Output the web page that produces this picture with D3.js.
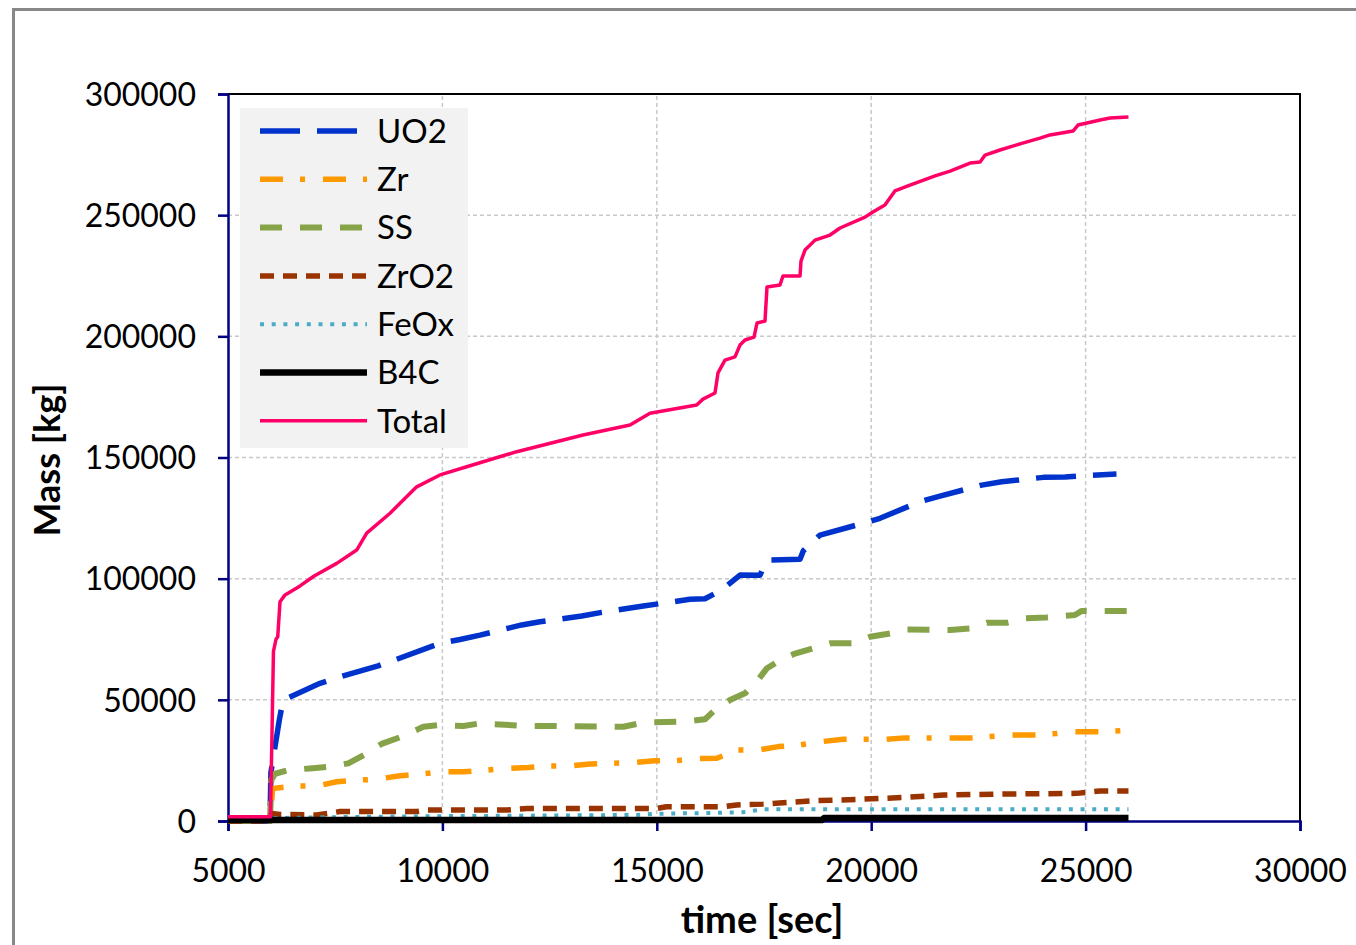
<!DOCTYPE html>
<html>
<head>
<meta charset="utf-8">
<script src="https://cdn.jsdelivr.net/npm/d3@7"></script>
<style>
  body { margin: 0; background: #fff; }
  svg { display: block; font-family: Lato, "Open Sans", sans-serif; }
</style>
</head>
<body>
<div class="chart"></div>
<script>
// Chart size
const width = 1356;
const height = 945;
const margin = { top: 94, right: 56, bottom: 124, left: 228 };

// Axis ticks
const xTicks = [5000, 10000, 15000, 20000, 25000, 30000];
const yTicks = [0, 50000, 100000, 150000, 200000, 250000, 300000];

// Series data: [time sec, mass kg]
const uo2 = [[5000, 0], [5980, 0], [6000, 20000], [6197, 41700], [6285, 49900], [7145, 56800], [7612, 59500],
  [8500, 64000], [8928, 66700], [9944, 73300], [10410, 74900], [10877, 76700], [11849, 80900], [12276, 82200],
  [13250, 84600], [13716, 86100], [14686, 88700], [15115, 89800], [15774, 91500], [16124, 91700], [16513, 95300],
  [16940, 101500], [17407, 101400], [17562, 107700], [18340, 108000], [18417, 111500], [18806, 118000],
  [19739, 122500], [20205, 124900], [21138, 131800], [21604, 134100], [22576, 138600], [23043, 140000],
  [24015, 141800], [24520, 142000], [25720, 143200]];
const zr = [[5000, 0], [5990, 0], [6040, 13400], [6562, 14400], [7069, 14400], [7535, 16200], [8039, 16900],
  [8468, 17200], [8972, 18600], [9517, 19400], [9983, 20300], [10490, 20300], [11033, 21000], [11460, 21700],
  [12003, 22100], [12509, 22700], [12976, 22700], [13442, 23500], [14452, 24100], [14958, 24900], [15464, 24900],
  [15891, 25800], [16397, 25900], [16900, 29300], [17368, 29300], [17834, 30700], [18340, 31400], [18806, 32700],
  [19350, 33700], [20320, 33700], [20790, 34300], [22342, 34300], [23236, 35500], [23780, 35500], [24325, 36100],
  [24713, 36800], [25412, 36800], [26000, 37500]];
const ss = [[5000, 0], [5980, 0], [6010, 17000], [6100, 19500], [6406, 21000], [6912, 21700], [7379, 22400],
  [7806, 23800], [8235, 27900], [8580, 31800], [9050, 34800], [9555, 38900], [9944, 39600], [10490, 39200],
  [10877, 40300], [11880, 39300], [14220, 38900], [14686, 40600], [15660, 41000], [16124, 42000], [16397, 46500],
  [16707, 49900], [17057, 52700], [17330, 57500], [17562, 62900], [17873, 66400], [18223, 69100], [19040, 73300],
  [19584, 73300], [19973, 76000], [20440, 77400], [20829, 79000], [21840, 78800], [22306, 79500], [22695, 81800],
  [23159, 81800], [23587, 83600], [24085, 84000], [24752, 85000], [24908, 86700], [26000, 86700]];
const zro2 = [[5000, 0], [5990, 0], [6012, 3100], [6213, 2700], [7069, 2500], [7612, 3900], [9400, 3900],
  [9629, 4500], [11500, 4500], [11966, 5200], [14993, 5200], [15226, 5900], [16544, 5900], [16860, 6600],
  [17484, 7000], [18730, 8400], [19660, 8900], [20752, 9700], [21683, 10700], [22925, 11100], [24790, 11400],
  [25336, 12400], [26000, 12400]];
const feox = [[5000, 0], [5990, 0], [6050, 1200], [8000, 1700], [10000, 2000], [12000, 2200], [14500, 2500],
  [15000, 3000], [16200, 3300], [17000, 3600], [17500, 4800], [26000, 4900]];
const b4c = [[5000, 400], [18850, 400], [18900, 1200], [26000, 1200]];
const total = [[5000, 1800], [5990, 1800], [6030, 40000], [6060, 70000], [6120, 75000], [6160, 76000],
  [6213, 90500], [6330, 93300], [6680, 97000], [7000, 101000], [7535, 106300], [8001, 111800], [8235, 118800],
  [8778, 127000], [9400, 137900], [9944, 142800], [10567, 146200], [11733, 152400], [13280, 159300],
  [14375, 163400], [14840, 168300], [15930, 171700], [16077, 174100], [16357, 176600], [16427, 184900],
  [16590, 190200], [16823, 191500], [16940, 196400], [17057, 198500], [17267, 199700], [17337, 205500],
  [17523, 206300], [17570, 220400], [17873, 221200], [17943, 224900], [18340, 224900], [18363, 231000],
  [18456, 235600], [18690, 239700], [19040, 241800], [19273, 244700], [19856, 249200], [20040, 251300],
  [20320, 254200], [20553, 260000], [20903, 262400], [21490, 266200], [21840, 268200], [22306, 271500],
  [22540, 271900], [22656, 274800], [23003, 276900], [23470, 279400], [23937, 281800], [24170, 283100],
  [24706, 284700], [24823, 287200], [25340, 289300], [25570, 290100], [26000, 290500]];

const seriesNames = ['UO2', 'Zr', 'SS', 'ZrO2', 'FeOx', 'B4C', 'Total'];
const seriesData = [uo2, zr, ss, zro2, feox, b4c, total];

// Styles per series
const styles = {
  UO2:   { color: '#0033CC', width: 5.5, dash: '40,17' },
  Zr:    { color: '#FF9900', width: 5.5, dash: '23,17,5,18' },
  SS:    { color: '#86A34A', width: 6, dash: '22,18' },
  ZrO2:  { color: '#993300', width: 5.5, dash: '14,9' },
  FeOx:  { color: '#4BACC6', width: 4, dash: '4,7.7' },
  B4C:   { color: '#000000', width: 6.5, dash: null },
  Total: { color: '#FF0066', width: 3.5, dash: null }
};

const svg = d3.select('.chart')
  .append('svg')
  .attr('width', width)
  .attr('height', height);

// Outer frame (only left and top edges are inside the picture)
svg.append('rect')
  .attr('x', 13.5).attr('y', 9.5)
  .attr('width', width).attr('height', height)
  .attr('fill', 'none')
  .attr('stroke', '#888')
  .attr('stroke-width', 3);

const x = d3.scaleLinear().domain([5000, 30000]).range([margin.left, width - margin.right]);
const y = d3.scaleLinear().domain([0, 300000]).range([height - margin.bottom, margin.top]);

// Gridlines
svg.append('g')
  .selectAll('line')
  .data(yTicks.slice(1))
  .enter().append('line')
  .attr('x1', x(5000)).attr('x2', x(30000))
  .attr('y1', d => y(d)).attr('y2', d => y(d))
  .attr('stroke', '#C8C8C8').attr('stroke-width', 1.5).attr('stroke-dasharray', '4,3');

svg.append('g')
  .selectAll('line')
  .data(xTicks.slice(1, -1))
  .enter().append('line')
  .attr('x1', d => x(d)).attr('x2', d => x(d))
  .attr('y1', y(0)).attr('y2', y(300000))
  .attr('stroke', '#C8C8C8').attr('stroke-width', 1.5).attr('stroke-dasharray', '4,3');

// Top and right border
svg.append('path')
  .attr('d', `M${x(5000)},${y(300000)}H${x(30000)}V${y(0)}`)
  .attr('fill', 'none')
  .attr('stroke', '#000')
  .attr('stroke-width', 2);

// Axes
const xAxis = svg.append('g')
  .attr('transform', `translate(0,${y(0)})`)
  .call(d3.axisBottom(x).tickValues(xTicks).tickSize(10).tickPadding(28).tickFormat(d3.format('d')));

const yAxis = svg.append('g')
  .attr('transform', `translate(${x(5000)},0)`)
  .call(d3.axisLeft(y).tickValues(yTicks).tickSize(10).tickPadding(22).tickFormat(d3.format('d')));

[xAxis, yAxis].forEach(ax => {
  ax.select('.domain').attr('stroke', '#000080').attr('stroke-width', 2.5);
  ax.selectAll('.tick line').attr('stroke', '#000080').attr('stroke-width', 2.5);
  ax.selectAll('.tick text')
    .attr('fill', '#000')
    .style('font-family', 'Lato, sans-serif')
    .style('font-size', '32px');
});
yAxis.selectAll('.tick text').attr('dy', '0.35em');

// Series lines (drawn over the axes, as in the original)
const line = d3.line()
  .x(d => x(d[0]))
  .y(d => y(d[1]));

svg.append('g')
  .selectAll('path')
  .data(seriesNames)
  .enter().append('path')
  .attr('d', (d, i) => line(seriesData[i]))
  .attr('fill', 'none')
  .attr('stroke', d => styles[d].color)
  .attr('stroke-width', d => styles[d].width)
  .attr('stroke-dasharray', d => styles[d].dash)
  .attr('stroke-linejoin', 'round');

// Axis titles
svg.append('text')
  .attr('x', 762).attr('y', 933)
  .attr('text-anchor', 'middle')
  .style('font-size', '38px')
  .style('font-weight', 'bold')
  .text('time [sec]');

svg.append('text')
  .attr('transform', 'translate(60,460) rotate(-90)')
  .attr('text-anchor', 'middle')
  .style('font-size', '36px')
  .style('font-weight', 'bold')
  .text('Mass [kg]');

// Legend
const legend = svg.append('g');
legend.append('rect')
  .attr('x', 240).attr('y', 108)
  .attr('width', 228).attr('height', 340)
  .attr('fill', '#F2F2F2');

const items = legend.selectAll('.item')
  .data(seriesNames)
  .enter().append('g')
  .attr('class', 'item')
  .attr('transform', (d, i) => `translate(0,${131 + i * 48.3})`);

items.append('line')
  .attr('x1', 260).attr('x2', 367)
  .attr('stroke', d => styles[d].color)
  .attr('stroke-width', d => styles[d].width)
  .attr('stroke-dasharray', d => styles[d].dash);

items.append('text')
  .attr('x', 377)
  .attr('dy', '0.36em')
  .style('font-size', '33px')
  .text(d => d);
</script>
</body>
</html>
